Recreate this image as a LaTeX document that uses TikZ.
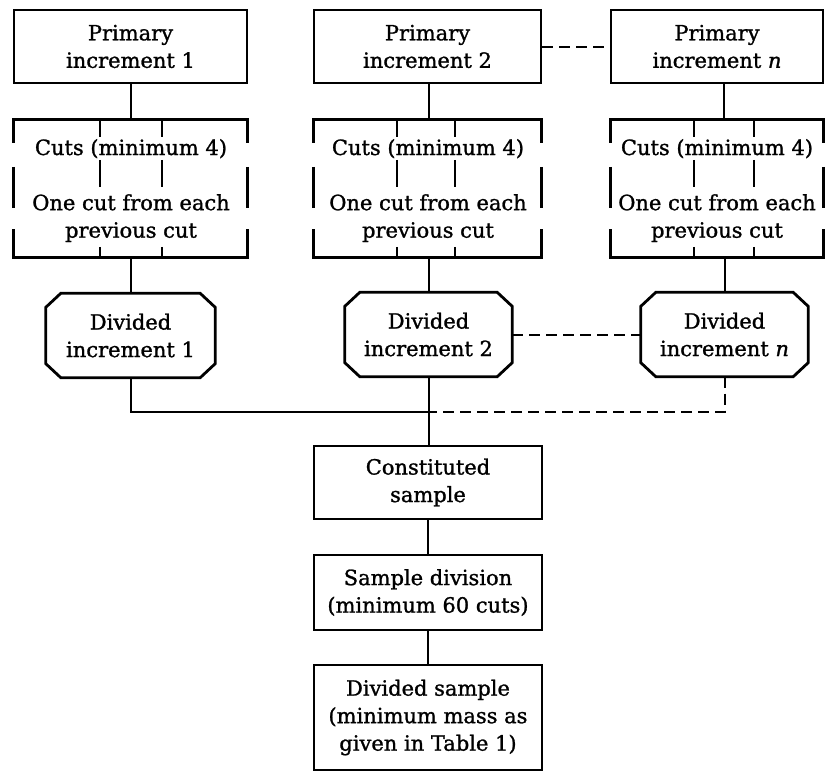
\documentclass[tikz,border=0pt]{standalone}
\usepackage{fontspec}
\setmainfont{DejaVu Serif}[FakeBold=1.2]
\usetikzlibrary{calc}
\begin{document}
\begin{tikzpicture}[x=1pt,y=-1pt,
  every node/.style={font=\fontsize{21}{27.5}\selectfont, inner sep=0pt, align=center},
  boxline/.style={line width=2.8pt, line join=miter},
  cutline/.style={line width=2pt},
  conn/.style={line width=2pt},
  dashes/.style={dash pattern=on 11pt off 6pt},
  box/.style={draw, boxline, minimum width=#1},
  lowtext/.style={execute at begin node={\rule{0pt}{23pt}}},
  frame/.style={minimum width=#1, minimum height=137pt},
  divbox/.style={minimum width=#1, minimum height=84pt}
]
\useasboundingbox (0,0) rectangle (829,772);

% primary increments
\node[box=233pt, minimum height=73pt, lowtext] (p1) at (130.5,46.5) {Primary\\increment 1};
\node[box=227pt, minimum height=73pt, lowtext] (p2) at (427.5,46.5) {Primary\\increment 2};
\node[box=212pt, minimum height=73pt, lowtext] (pn) at (717,46.5) {Primary\\increment \textit{n}};

% cut frames
\node[frame=233pt] (c1) at (130.5,188.5) {};
\node[frame=227pt] (c2) at (427.5,188.5) {};
\node[frame=212pt] (cn) at (717,188.5) {};

\node[anchor=base] (c1a) at (131,155) {Cuts (minimum 4)};
\node[anchor=north] (c1b) at (131,194) {One cut from each\\previous cut};
\node[anchor=base] (c2a) at (428,155) {Cuts (minimum 4)};
\node[anchor=north] (c2b) at (428,194) {One cut from each\\previous cut};
\node[anchor=base] (cna) at (717,155) {Cuts (minimum 4)};
\node[anchor=north] (cnb) at (717,194) {One cut from each\\previous cut};

\foreach \c/\a/\b in {c1/86/148, c2/83/141, cn/83/143}{
  \draw[boxline] ([yshift=-23pt]\c.north west) -- (\c.north west) -- (\c.north east) -- ([yshift=-23pt]\c.north east);
  \draw[boxline] ([yshift=28pt]\c.south west) -- (\c.south west) -- (\c.south east) -- ([yshift=28pt]\c.south east);
  \draw[boxline] ([yshift=-47pt]\c.north west) -- ([yshift=-88pt]\c.north west);
  \draw[boxline] ([yshift=-47pt]\c.north east) -- ([yshift=-88pt]\c.north east);
  \foreach \x in {\a,\b}{
    \foreach \s/\e in {0/17,40/67,127/137}{
      \draw[cutline] ([xshift=\x pt,yshift=-\s pt]\c.north west) -- ([xshift=\x pt,yshift=-\e pt]\c.north west);
    }
  }
}

% divided increments
\node[divbox=169pt] (d1) at (130.5,335.5) {Divided\\increment 1};
\node[divbox=167pt] (d2) at (428.5,334.5) {Divided\\increment 2};
\node[divbox=167pt] (dn) at (724.5,334.5) {Divided\\increment \textit{n}};
\foreach \n in {d1,d2,dn}{
  \draw[boxline] ([xshift=15pt]\n.north west) -- ([xshift=-15pt]\n.north east)
    -- ([yshift=-14pt]\n.north east) -- ([yshift=14pt]\n.south east)
    -- ([xshift=-15pt]\n.south east) -- ([xshift=15pt]\n.south west)
    -- ([yshift=14pt]\n.south west) -- ([yshift=-14pt]\n.north west) -- cycle;
}

% lower chain
\node[box=228pt, minimum height=73pt] (cs) at (428,482.5) {Constituted\\sample};
\node[box=228pt, minimum height=75pt] (sd) at (428,592.5) {Sample division\\(minimum 60 cuts)};
\node[box=228pt, minimum height=105pt] (ds) at (428,717.5) {Divided sample\\(minimum mass as\\given in Table 1)};

\coordinate (jn) at (428.5,412);

% connectors
\draw[conn] (p1.south) -- (c1.north);
\draw[conn] (p2.south -| d2.north) -- (c2.north -| d2.north);
\draw[conn] ([xshift=7pt]pn.south) -- ([xshift=7pt]cn.north);
\draw[conn] (c1.south) -- (d1.north);
\draw[conn] (c2.south -| d2.north) -- (d2.north);
\draw[conn] (cn.south -| dn.north) -- (dn.north);
\draw[conn,dashes] (p2.east) -- (pn.west);
\draw[conn,dashes] (d2.east) -- (dn.west);
\draw[conn] (d1.south) |- (jn);
\draw[conn,dashes] (dn.south) |- (jn);
\draw[conn] (d2.south) -- (d2.south |- cs.north);
\draw[conn] (cs.south) -- (sd.north);
\draw[conn] (sd.south) -- (ds.north);
\end{tikzpicture}
\end{document}
